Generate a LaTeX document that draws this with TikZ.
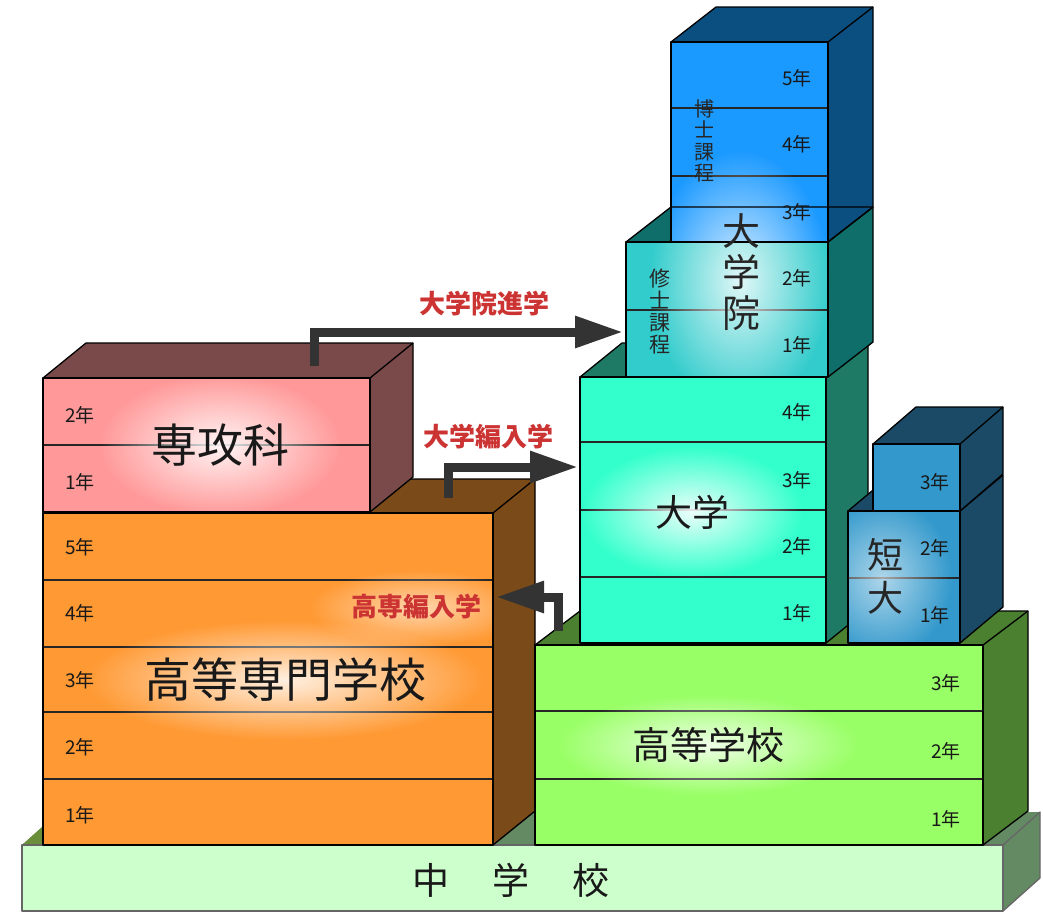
\documentclass[tikz,border=0pt]{standalone}
\usepackage{fontspec}
\newfontfamily\jp{Noto Sans CJK JP}
\usetikzlibrary{arrows.meta,fadings}
\tikzfading[name=glowfade, inner color=transparent!0, outer color=transparent!100]
\definecolor{baseF}{HTML}{CCFFCC}
\definecolor{baseS}{HTML}{638A63}
\definecolor{baseT}{HTML}{6B8E3A}
\definecolor{kosenF}{HTML}{FF9933}
\definecolor{kosenS}{HTML}{7A4A18}
\definecolor{senkoF}{HTML}{FF9999}
\definecolor{senkoS}{HTML}{7A4A4A}
\definecolor{hsF}{HTML}{99FF66}
\definecolor{hsS}{HTML}{4A8030}
\definecolor{uniF}{HTML}{33FFCC}
\definecolor{uniS}{HTML}{1E7A64}
\definecolor{masF}{HTML}{33CCCC}
\definecolor{masS}{HTML}{0F6E6A}
\definecolor{docF}{HTML}{1A99FF}
\definecolor{docS}{HTML}{0B4F80}
\definecolor{jcF}{HTML}{3399CC}
\definecolor{jcS}{HTML}{1A4A66}
\definecolor{arrowgray}{HTML}{333333}
\definecolor{labred}{HTML}{CC3333}
\newcommand\blk[8]{%
  \fill[#8] (#1,#2) -- (#1+#5,#2-#6) -- (#3+#5,#2-#6) -- (#3,#2) -- cycle;
  \fill[#8] (#3,#2) -- (#3+#5,#2-#6) -- (#3+#5,#4-#6) -- (#3,#4) -- cycle;
  \fill[#7] (#1,#2) rectangle (#3,#4);
}
\newcommand\blkline[6]{%
  \draw[edge] (#1,#2) rectangle (#3,#4);
  \draw[edge] (#1,#2) -- (#1+#5,#2-#6) -- (#3+#5,#2-#6) -- (#3+#5,#4-#6) -- (#3,#4);
  \draw[edge] (#3,#2) -- (#3+#5,#2-#6);
}
\newcommand\glow[5]{%
  \fill[white, fill opacity=#5, path fading=glowfade] (#1,#2) ellipse (#3 and #4);
}
\tikzset{
  edge/.style={draw=black, line width=1.3pt, line join=round},
  divider/.style={draw=black!85, line width=1.8pt},
  yr/.style={font=\jp\fontsize{19}{19}\selectfont, text=black!90, inner sep=0pt},
  biglab/.style={font=\jp\fontsize{#1}{#1}\selectfont, text=black!90, inner sep=0pt},
  vlab/.style 2 args={font=\jp\fontsize{#1}{#2}\selectfont, text=black!85, align=center, inner sep=0pt},
  redlab/.style={font=\jp\bfseries\fontsize{26}{26}\selectfont, text=labred, inner sep=0pt},
  arr/.style={draw=arrowgray, line width=9pt, line join=miter, line cap=butt,
    -{Triangle[length=48pt,width=30pt]}},
}
\begin{document}
\begin{tikzpicture}[x=1pt,y=-1pt]
\useasboundingbox (0,0) rectangle (1043,911);
\fill[white] (0,0) rectangle (1043,911);

% ---- base: junior high school
\fill[baseS] (22,845) -- (59,812) -- (1040,812) -- (1003,845) -- cycle;
\fill[baseS] (1003,845) -- (1040,812) -- (1040,878) -- (1003,911) -- cycle;
\fill[baseT] (22,845) -- (59,812) -- (80,812) -- (43,845) -- cycle;
\fill[baseF] (22,845) rectangle (1003,911);
\draw[edge, draw=black!60] (22,845) rectangle (1003,911);
\draw[edge, draw=black!60] (1003,845) -- (1040,812) -- (1040,878) -- (1003,911);

% ---- kosen (technical college)
\blk{43}{513}{493}{845}{42}{34}{kosenF}{kosenS}
\foreach \yy in {580,647,712,779} \draw[divider] (43,\yy) -- (493,\yy);
\begin{scope}
  \clip (43,513) rectangle (493,845);
  \glow{285}{680}{200}{60}{0.85}
  \glow{418}{608}{110}{38}{0.6}
\end{scope}
\blkline{43}{513}{493}{845}{42}{34}

% ---- senkoka (advanced course)
\blk{43}{378}{370}{512}{43}{35}{senkoF}{senkoS}
\draw[divider] (43,445) -- (370,445);
\begin{scope}
  \clip (43,378) rectangle (370,512);
  \glow{220}{445}{120}{70}{0.9}
\end{scope}
\blkline{43}{378}{370}{512}{43}{35}

% ---- high school
\blk{535}{645}{983}{845}{45}{34}{hsF}{hsS}
\foreach \yy in {711,779} \draw[divider] (535,\yy) -- (983,\yy);
\begin{scope}
  \clip (535,645) rectangle (983,845);
  \glow{708}{745}{150}{50}{0.85}
\end{scope}
\blkline{535}{645}{983}{845}{45}{34}

% ---- university
\blk{580}{377}{826}{643}{42}{34}{uniF}{uniS}
\foreach \yy in {442,510,577} \draw[divider] (580,\yy) -- (826,\yy);
\begin{scope}
  \clip (580,377) rectangle (826,643);
  \glow{692}{512}{110}{65}{0.9}
\end{scope}
\blkline{580}{377}{826}{643}{42}{34}

% ---- master
\blk{626}{242}{828}{377}{45}{35}{masF}{masS}
\draw[divider] (626,310) -- (828,310);
% ---- doctor
\blk{671}{42}{828}{242}{45}{35}{docF}{docS}
\foreach \yy in {108,176} \draw[divider] (671,\yy) -- (828,\yy);
\begin{scope}
  \clip (671,42) rectangle (828,242) (626,242) rectangle (828,377);
  \glow{740}{280}{90}{130}{0.85}
\end{scope}
\blkline{626}{242}{828}{377}{45}{35}
\blkline{671}{42}{828}{242}{45}{35}

% ---- junior college
\blk{848}{511}{960}{643}{43}{36}{jcF}{jcS}
\draw[divider] (848,578) -- (960,578);
\begin{scope}
  \clip (848,511) rectangle (960,643);
  \glow{882}{578}{70}{80}{0.6}
\end{scope}
\blkline{848}{511}{960}{643}{43}{36}
\blk{873}{444}{960}{511}{43}{37}{jcF}{jcS}
\blkline{873}{444}{960}{511}{43}{37}

% ---- year labels
\foreach \t/\yy [count=\i] in {2年/415,1年/482} \node[yr] (sk\i) at (80,\yy) {\t};
\foreach \t/\yy [count=\i] in {5年/547,4年/613,3年/680,2年/747,1年/815} \node[yr] (ks\i) at (80,\yy) {\t};
\foreach \t/\yy [count=\i] in {4年/412,3年/480,2年/546,1年/613} \node[yr] (un\i) at (797,\yy) {\t};
\foreach \t/\yy [count=\i] in {5年/78,4年/144,3年/212,2年/278,1年/345} \node[yr] (gs\i) at (797,\yy) {\t};
\foreach \t/\yy [count=\i] in {3年/482,2年/548,1年/615} \node[yr] (jc\i) at (935,\yy) {\t};
\foreach \t/\yy [count=\i] in {3年/683,2年/751,1年/819} \node[yr] (hs\i) at (946,\yy) {\t};

% ---- big labels
\node[biglab=46] (senko) at (220,445) {専攻科};
\node[biglab=47] (kosen) at (285,680) {高等専門学校};
\node[biglab=37] (uni) at (692,512) {大学};
\node[biglab=38] (hs) at (708,745) {高等学校};
\node[vlab={38}{41}] (grad) at (741,272) {大\\学\\院};
\node[vlab={20}{21.5}] (doc) at (704,141) {博\\士\\課\\程};
\node[vlab={21}{22}] (mas) at (660,311) {修\\士\\課\\程};
\node[vlab={36}{43}] (jc) at (885,576) {短\\大};
\node[biglab=37] (jhs) at (511,880) {中\hspace{43pt}学\hspace{43pt}校};

% ---- arrows
\coordinate (a1s) at (314,366);
\coordinate (a1c) at (314,332);
\coordinate (a1e) at (623,332);
\draw[arr] (a1s) -- (a1c) -- (a1e);
\coordinate (a2s) at (448,498);
\coordinate (a2c) at (448,467);
\coordinate (a2e) at (578,467);
\draw[arr] (a2s) -- (a2c) -- (a2e);
\coordinate (a3s) at (558,631);
\coordinate (a3c) at (558,597);
\coordinate (a3e) at (496,597);
\draw[arr] (a3s) -- (a3c) -- (a3e);

\node[redlab] (l1) at (484,304) {大学院進学};
\node[redlab] (l2) at (488,437) {大学編入学};
\node[redlab] (l3) at (416,607) {高専編入学};
\end{tikzpicture}
\end{document}
